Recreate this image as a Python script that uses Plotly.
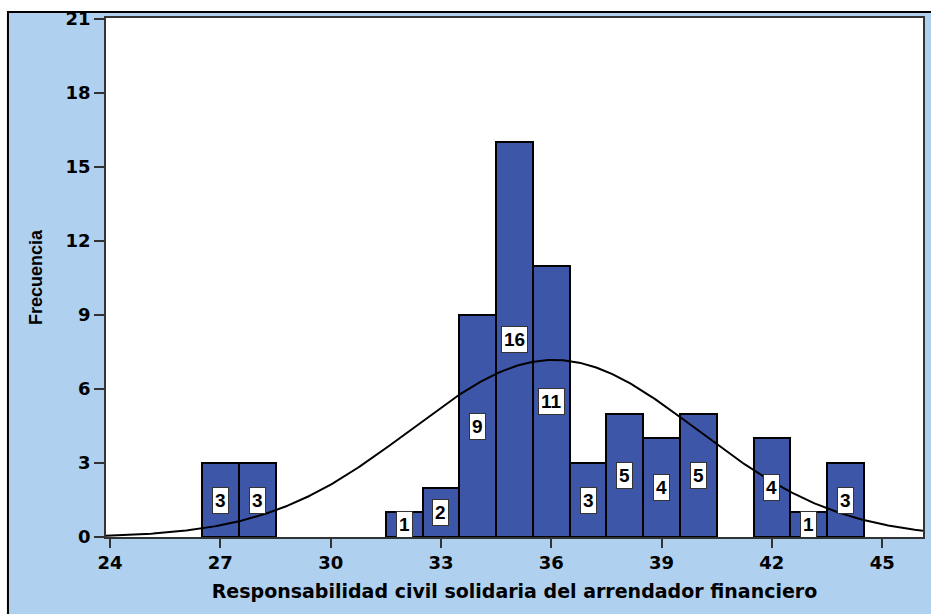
import numpy as np
import plotly.graph_objects as go

# Data
values = [27, 28, 32, 33, 34, 35, 36, 37, 38, 39, 40, 42, 43, 44]
counts = [3, 3, 1, 2, 9, 16, 11, 3, 5, 4, 5, 4, 1, 3]
x_ticks = [24, 27, 30, 33, 36, 39, 42, 45]
y_ticks = [0, 3, 6, 9, 12, 15, 18, 21]
x_title = "Responsabilidad civil solidaria del arrendador financiero"
y_title = "Frecuencia"

BAR_COLOR = "#3E56A8"
BG_BLUE = "#AFD0EE"

# Normal curve fitted to the data (as SPSS draws it)
v = np.repeat(values, counts)
n = len(v)
mu = v.mean()
sd = v.std(ddof=1)
x_range = [23.89, 46.11]
xc = np.linspace(x_range[0], x_range[1], 400)
yc = n * 1.0 / (sd * np.sqrt(2 * np.pi)) * np.exp(-0.5 * ((xc - mu) / sd) ** 2)

fig = go.Figure()
fig.add_trace(go.Bar(
    x=values, y=counts, width=1.0,
    marker=dict(color=BAR_COLOR, line=dict(color="black", width=2)),
    hoverinfo="x+y",
))
fig.add_trace(go.Scatter(
    x=xc, y=yc, mode="lines",
    line=dict(color="black", width=2),
    hoverinfo="skip",
))

for xv, c in zip(values, counts):
    fig.add_annotation(
        x=xv, y=c / 2, text=f"<b>{c}</b>", showarrow=False,
        xanchor="center", yanchor="middle",
        font=dict(family="Liberation Sans, Arial, sans-serif", size=19, color="black"),
        bgcolor="white", bordercolor="#333333", borderwidth=1, borderpad=2,
    )

# white strips outside the blue frame (top and left)
fig.add_shape(type="rect", xref="paper", yref="paper",
              x0=-0.2, x1=1.2, y0=1.0116, y1=1.2,
              fillcolor="white", line=dict(width=0), layer="below")
fig.add_shape(type="rect", xref="paper", yref="paper",
              x0=-0.2, x1=-0.12, y0=-0.3, y1=1.2,
              fillcolor="white", line=dict(width=0), layer="below")
# frame border
fig.add_shape(type="rect", xref="paper", yref="paper",
              x0=-0.12, x1=1.2, y0=-0.3, y1=1.0116,
              fillcolor="rgba(0,0,0,0)", line=dict(color="black", width=2), layer="below")

tick_font = dict(family="DejaVu Sans, Verdana, sans-serif", size=18, color="black", weight="bold")

fig.update_layout(
    width=931, height=614,
    margin=dict(l=106, r=8, t=18, b=77),
    paper_bgcolor=BG_BLUE,
    plot_bgcolor="white",
    showlegend=False,
    bargap=0,
    xaxis=dict(
        range=x_range, tickvals=x_ticks, ticktext=[str(t) for t in x_ticks],
        ticks="outside", ticklen=9, tickwidth=1.5, tickcolor="#333333",
        showline=True, mirror=True, linecolor="#333333", linewidth=1.5,
        showgrid=False, zeroline=False, tickfont=tick_font, automargin=False,
        title=dict(text=f"<b>{x_title}</b>", standoff=12,
                   font=dict(family="DejaVu Sans, Verdana, sans-serif", size=19, color="black")),
    ),
    yaxis=dict(
        range=[0, 21.04], tickvals=y_ticks, ticktext=[str(t) for t in y_ticks],
        ticks="outside", ticklen=10, tickwidth=1.5, tickcolor="#333333",
        showline=True, mirror=True, linecolor="#333333", linewidth=1.5,
        showgrid=False, zeroline=False, tickfont=tick_font, automargin=False,
        title=dict(text=f"<b>{y_title}</b>", standoff=18,
                   font=dict(family="Liberation Sans Narrow, Arial Narrow, Liberation Sans, sans-serif", size=18, color="black")),
    ),
)

fig.write_html("out.html", config={"displayModeBar": False},
               post_script="document.body.style.margin='0';")
